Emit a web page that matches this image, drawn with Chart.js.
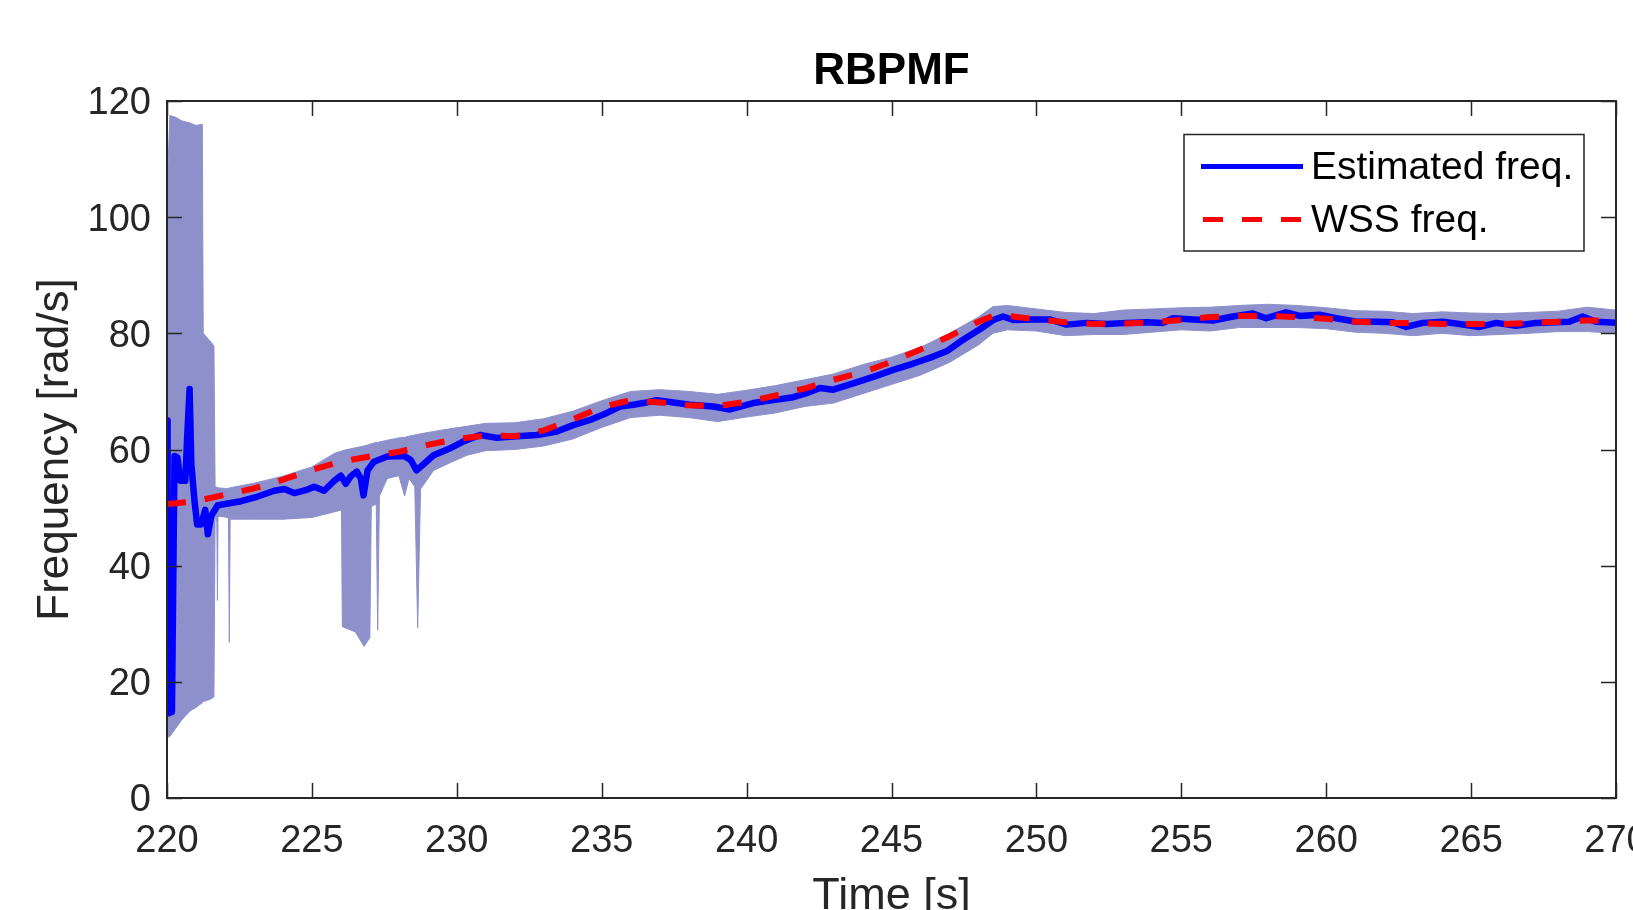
<!DOCTYPE html>
<html>
<head>
<meta charset="utf-8">
<title>RBPMF</title>
<script src="https://cdn.jsdelivr.net/npm/chart.js@4.4.1/dist/chart.umd.min.js"></script>
<style>
  html, body { margin: 0; padding: 0; background: #fff; }
  #wrap { width: 1633px; height: 910px; position: relative; }
</style>
</head>
<body>
<div id="wrap"><canvas id="freqChart" width="1633" height="910"></canvas></div>
<script>
// Datos
const estTime = [220.0, 220.02, 220.06, 220.17, 220.26, 220.36, 220.47, 220.63, 220.7, 220.78, 220.84, 220.95, 221.04, 221.18, 221.32, 221.41, 221.53, 221.75, 222.1, 222.56, 223.13, 223.7, 224.05, 224.39, 224.85, 225.08, 225.42, 225.77, 226.0, 226.17, 226.34, 226.55, 226.69, 226.78, 226.92, 227.14, 227.6, 228.18, 228.41, 228.61, 228.86, 229.2, 229.77, 230.23, 230.8, 231.38, 232.07, 232.76, 233.45, 234.02, 234.6, 235.18, 235.63, 236.09, 236.55, 236.9, 237.47, 238.05, 238.85, 239.43, 240.23, 240.92, 241.61, 242.07, 242.53, 242.99, 243.68, 244.37, 245.06, 245.75, 246.44, 246.9, 247.47, 248.05, 248.51, 248.85, 249.2, 249.89, 250.46, 251.04, 251.73, 252.42, 253.11, 253.8, 254.37, 254.71, 255.4, 256.09, 256.78, 257.47, 257.93, 258.62, 259.08, 259.77, 260.35, 261.04, 261.73, 262.3, 262.76, 263.33, 264.02, 264.6, 265.29, 265.87, 266.55, 267.24, 267.93, 268.39, 268.85, 269.31, 270.0];
const estFreq = [65.0, 14.6, 14.6, 14.8, 58.9, 58.6, 54.6, 54.6, 62.5, 70.4, 57.5, 51.1, 47.1, 47.1, 49.6, 45.4, 48.6, 50.4, 50.7, 51.1, 51.9, 52.9, 53.2, 52.5, 53.1, 53.6, 52.9, 54.6, 55.5, 54.1, 55.4, 56.2, 55.0, 52.1, 56.4, 57.9, 58.8, 58.9, 58.2, 56.4, 57.5, 59.0, 60.2, 61.4, 62.5, 62.0, 62.3, 62.5, 63.1, 64.2, 65.1, 66.3, 67.4, 67.7, 68.1, 68.5, 68.1, 67.7, 67.4, 66.9, 68.0, 68.5, 69.0, 69.7, 70.6, 70.3, 71.4, 72.5, 73.7, 74.8, 76.0, 76.9, 78.9, 80.7, 82.3, 82.9, 82.3, 82.4, 82.4, 81.5, 81.8, 81.6, 81.8, 81.9, 81.8, 82.6, 82.4, 82.2, 82.9, 83.4, 82.6, 83.6, 83.0, 83.2, 82.6, 82.0, 82.0, 81.9, 81.1, 81.8, 82.0, 81.6, 81.1, 81.8, 81.3, 81.8, 81.9, 82.0, 82.9, 82.0, 81.8];

const wssTime = [220, 221, 222, 223, 224, 225, 226, 227, 228, 229, 230, 231, 232, 233, 234, 235, 236, 237, 238, 239, 240, 241, 242, 243, 244, 245, 246, 247, 248, 248.6, 249, 250, 251, 252, 253, 254, 255, 256, 257, 258, 259, 260, 261, 262, 263, 264, 265, 266, 267, 268, 269, 270];
const wssFreq = [50.6, 51.1, 52.2, 53.3, 54.8, 56.5, 57.9, 58.8, 59.6, 60.8, 61.8, 62.4, 62.3, 63.3, 65.2, 67.3, 68.5, 68.1, 67.6, 67.5, 68.2, 69.3, 70.5, 72.0, 73.3, 75.1, 77.2, 79.5, 82.0, 83.2, 83.0, 82.4, 81.9, 81.6, 81.7, 81.9, 82.3, 82.8, 83.0, 83.0, 82.8, 82.5, 82.0, 81.8, 81.8, 81.6, 81.6, 81.6, 81.8, 82.0, 82.2, 82.2];

// Banda de incertidumbre (limite superior / inferior)
const bandTime = [220.0, 220.1, 220.3, 220.5, 220.8, 221.0, 221.22, 221.25, 221.5, 221.62, 221.66, 221.72, 221.74, 221.76, 222.0, 222.12, 222.15, 222.18, 223.0, 224.0, 225.0, 225.8, 226.02, 226.05, 226.5, 226.8, 227.0, 227.05, 227.22, 227.27, 227.33, 227.6, 228.0, 228.2, 228.35, 228.55, 228.65, 228.75, 229.2, 229.8, 230.35, 231, 232, 233, 234, 235, 236, 237, 238, 239, 240, 241, 242, 243, 244, 245, 246, 247, 248, 248.5, 249, 250, 251, 252, 253, 254, 255, 256, 257, 258, 259, 260, 261, 262, 263, 264, 265, 266, 267, 268, 269, 270];
const bandUpper = [104, 117.5, 117.2, 116.6, 116.2, 115.8, 116.0, 80.0, 78.6, 77.8, 53.6, 53.5, 53.5, 53.4, 53.3, 53.3, 53.4, 53.4, 54.2, 55.4, 57.0, 59.4, 59.7, 59.8, 60.3, 60.6, 60.9, 61.0, 61.2, 61.2, 61.3, 61.6, 62.0, 62.1, 62.3, 62.5, 62.6, 62.7, 63.1, 63.6, 64.0, 64.5, 64.6, 65.3, 66.6, 68.4, 70.0, 70.3, 70.0, 69.5, 70.2, 71.0, 72.0, 73.0, 74.6, 75.9, 77.6, 80.0, 82.8, 84.6, 84.8, 84.2, 83.6, 83.4, 84.0, 84.2, 84.4, 84.5, 84.8, 85.0, 84.8, 84.4, 83.9, 83.8, 83.4, 83.7, 83.5, 83.4, 83.6, 83.8, 84.5, 84.0];
const bandLower = [10.4, 10.6, 12.0, 13.4, 15.0, 15.6, 16.4, 16.6, 17.0, 17.4, 48.8, 47.5, 34.0, 48.5, 48.4, 48.2, 26.8, 48.0, 48.0, 48.0, 48.3, 49.3, 49.6, 29.5, 28.6, 26.1, 27.6, 50.2, 50.6, 28.9, 52.0, 55.0, 55.5, 52.0, 55.0, 53.6, 29.3, 53.2, 56.4, 57.8, 59.0, 59.8, 60.0, 60.6, 61.8, 63.8, 65.5, 65.9, 65.5, 64.8, 65.6, 66.3, 67.4, 68.0, 69.6, 71.2, 72.8, 75.0, 78.0, 80.0, 80.6, 80.4, 79.6, 79.8, 79.8, 80.2, 80.6, 80.4, 81.0, 81.0, 81.0, 80.8, 80.2, 80.0, 79.6, 80.0, 79.6, 79.8, 80.0, 80.3, 80.3, 80.0];

const xTicks = [220, 225, 230, 235, 240, 245, 250, 255, 260, 265, 270];
const yTicks = [0, 20, 40, 60, 80, 100, 120];

const FONT = '"Liberation Sans", Arial, Helvetica, sans-serif';
const AXIS_COLOR = "#262626";
const BAND_COLOR = "#8e90cb";

const toPoints = (xs, ys) => xs.map((x, i) => ({ x, y: ys[i] }));

// Caja de ejes con marcas hacia adentro, titulo y leyenda
const framePlugin = {
  id: "frame",
  afterDraw(chart) {
    const { ctx, chartArea: a, scales } = chart;
    const tl = 15;
    ctx.save();
    ctx.strokeStyle = AXIS_COLOR;
    ctx.lineWidth = 1.5;
    ctx.beginPath();
    xTicks.forEach((t) => {
      const px = Math.round(scales.x.getPixelForValue(t)) + 0.5;
      ctx.moveTo(px, a.bottom);
      ctx.lineTo(px, a.bottom - tl);
      ctx.moveTo(px, a.top);
      ctx.lineTo(px, a.top + tl);
    });
    yTicks.forEach((v) => {
      const py = Math.round(scales.y.getPixelForValue(v)) + 0.5;
      ctx.moveTo(a.left, py);
      ctx.lineTo(a.left + tl, py);
      ctx.moveTo(a.right, py);
      ctx.lineTo(a.right - tl, py);
    });
    ctx.stroke();
    ctx.lineWidth = 2;
    ctx.strokeRect(a.left, a.top, a.right - a.left, a.bottom - a.top);

    // Titulo
    ctx.fillStyle = "#000";
    ctx.font = "bold 44px " + FONT;
    ctx.textAlign = "center";
    ctx.textBaseline = "alphabetic";
    ctx.fillText("RBPMF", (a.left + a.right) / 2, 84);

    // Leyenda
    const lx = 1184, ly = 134.5, lw = 400, lh = 116.5;
    ctx.fillStyle = "#fff";
    ctx.fillRect(lx, ly, lw, lh);
    ctx.lineWidth = 1.5;
    ctx.strokeStyle = AXIS_COLOR;
    ctx.strokeRect(lx, ly, lw, lh);

    ctx.lineWidth = 5;
    ctx.strokeStyle = "#0000ff";
    ctx.beginPath();
    ctx.moveTo(1201, 166.5);
    ctx.lineTo(1303, 166.5);
    ctx.stroke();

    ctx.strokeStyle = "#ff0000";
    ctx.setLineDash([20, 19]);
    ctx.beginPath();
    ctx.moveTo(1203, 219.5);
    ctx.lineTo(1301, 219.5);
    ctx.stroke();
    ctx.setLineDash([]);

    ctx.fillStyle = "#000";
    ctx.font = "39px " + FONT;
    ctx.textAlign = "left";
    ctx.textBaseline = "middle";
    ctx.fillText("Estimated freq.", 1311, 168);
    ctx.fillText("WSS freq.", 1311, 221);
    ctx.restore();
  },
};

const ctx = document.getElementById("freqChart").getContext("2d");

const freqChart = new Chart(ctx, {
  type: "line",
  data: {
    datasets: [
      {
        label: "lower",
        data: toPoints(bandTime, bandLower),
        borderColor: BAND_COLOR,
        borderWidth: 1,
        pointRadius: 0,
        fill: false,
        order: 3,
      },
      {
        label: "upper",
        data: toPoints(bandTime, bandUpper),
        borderColor: BAND_COLOR,
        backgroundColor: BAND_COLOR,
        borderWidth: 1,
        pointRadius: 0,
        fill: "-1",
        order: 2,
      },
      {
        label: "Estimated freq.",
        data: toPoints(estTime, estFreq),
        borderColor: "#0000ff",
        borderWidth: 6.5,
        borderJoinStyle: "round",
        pointRadius: 0,
        fill: false,
        order: 1,
      },
      {
        label: "WSS freq.",
        data: toPoints(wssTime, wssFreq),
        borderColor: "#ff0000",
        borderWidth: 6,
        borderDash: [19, 19],
        pointRadius: 0,
        fill: false,
        order: 0,
      },
    ],
  },
  options: {
    responsive: false,
    devicePixelRatio: 1,
    animation: false,
    layout: { padding: { left: 0, top: 101, right: 17, bottom: 0 } },
    plugins: {
      legend: { display: false },
      tooltip: { enabled: false },
      title: { display: false },
    },
    scales: {
      x: {
        type: "linear",
        min: 220,
        max: 270,
        afterBuildTicks: (scale) => {
          scale.ticks = xTicks.map((v) => ({ value: v }));
        },
        afterFit: (scale) => {
          scale.height = 112;
          scale.paddingLeft = 0;
          scale.paddingRight = 0;
        },
        grid: { display: false, drawTicks: false },
        border: { display: false },
        ticks: {
          color: AXIS_COLOR,
          font: { family: FONT, size: 38 },
          padding: 21,
          maxRotation: 0,
          autoSkip: false,
        },
        title: {
          display: true,
          text: "Time [s]",
          color: AXIS_COLOR,
          font: { family: FONT, size: 45 },
          padding: { top: 0, bottom: -14 },
        },
      },
      y: {
        min: 0,
        max: 120,
        afterBuildTicks: (scale) => {
          scale.ticks = yTicks.map((v) => ({ value: v }));
        },
        afterFit: (scale) => {
          scale.width = 167;
        },
        grid: { display: false, drawTicks: false },
        border: { display: false },
        ticks: {
          color: AXIS_COLOR,
          font: { family: FONT, size: 38 },
          padding: 16,
          labelOffset: 3,
        },
        title: {
          display: true,
          text: "Frequency [rad/s]",
          color: AXIS_COLOR,
          font: { family: FONT, size: 44 },
          padding: { top: 29, bottom: 0 },
        },
      },
    },
  },
  plugins: [framePlugin],
});
</script>
</body>
</html>
